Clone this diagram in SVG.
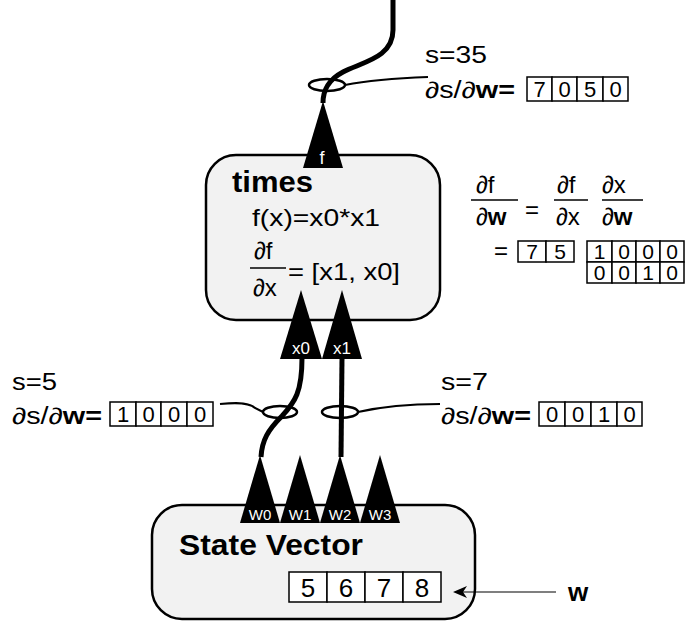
<svg xmlns="http://www.w3.org/2000/svg" width="686" height="623" viewBox="0 0 686 623">
<style>
.t{font-family:"Liberation Sans",Arial,sans-serif;fill:#000}
.b{font-weight:bold}
.wl{font-family:"Liberation Sans",Arial,sans-serif;fill:#fff;text-anchor:middle}
.cell{fill:#fff;stroke:#000;stroke-width:1.5}
.num{font-family:"Liberation Sans",Arial,sans-serif;fill:#000;text-anchor:middle}
.box{fill:#f2f2f2;stroke:#000;stroke-width:2.5}
.wire{fill:none;stroke:#000;stroke-width:5}
.ell{fill:none;stroke:#000;stroke-width:2.5}
.lead{fill:none;stroke:#000;stroke-width:2}
.fl{stroke:#000;stroke-width:1.5}
</style>
<g id="times">
<rect class="box" x="206" y="155" width="234" height="165" rx="30"/>
<text class="t b" x="232" y="192" font-size="29" textLength="81" lengthAdjust="spacingAndGlyphs">times</text>
<text class="t" x="252" y="226" font-size="24" textLength="128" lengthAdjust="spacingAndGlyphs">f(x)=x0*x1</text>
<text class="t" x="254" y="259" font-size="24">∂f</text>
<line class="fl" x1="250" y1="268" x2="286" y2="268"/>
<text class="t" x="253" y="296" font-size="24">∂x</text>
<text class="t" x="288" y="280" font-size="24" textLength="112" lengthAdjust="spacingAndGlyphs">= [x1, x0]</text>
</g>
<g id="state">
<rect class="box" x="152" y="505" width="323" height="114" rx="30"/>
<text class="t b" x="179" y="555" font-size="29" textLength="184" lengthAdjust="spacingAndGlyphs">State Vector</text>
<rect class="cell" x="289" y="572" width="38" height="30"/>
<rect class="cell" x="327" y="572" width="38" height="30"/>
<rect class="cell" x="365" y="572" width="38" height="30"/>
<rect class="cell" x="403" y="572" width="38" height="30"/>
<text class="num" x="308" y="597" font-size="26">5</text>
<text class="num" x="346" y="597" font-size="26">6</text>
<text class="num" x="384" y="597" font-size="26">7</text>
<text class="num" x="422" y="597" font-size="26">8</text>
</g>
<g id="connectors">
<path class="wire" d="M393,0 L393,30 C393,58 362,62 343,72 C328,80 323,90 323,103"/>
<path class="wire" d="M302,358 C302,392 295,402 282,416 C268,430 262,440 261,457"/>
<path class="wire" d="M342,358 L341,457"/>
<ellipse class="ell" cx="327" cy="85" rx="18" ry="6"/>
<ellipse class="ell" cx="280" cy="412" rx="17" ry="6"/>
<ellipse class="ell" cx="340" cy="412" rx="18" ry="6"/>
<path class="lead" d="M345,85 C370,80 400,78 428,77"/>
<path class="lead" d="M220,404 C240,402 250,403 255,408 L263,412"/>
<path class="lead" d="M358,412 C380,407 405,404 440,404"/>
<line x1="556" y1="592" x2="458" y2="592" stroke="#000" stroke-width="1.2"/>
<path d="M453,592 L467,586 L463,592 L467,598 Z" fill="#000"/>
</g>
<g id="ports">
<polygon points="323,101 303,168 343,168" fill="#000"/>
<text class="wl" x="322" y="164" font-size="18">f</text>
<polygon points="301,290 280,359 322,359" fill="#000"/>
<polygon points="342,290 322,359 362,359" fill="#000"/>
<text class="wl" x="301" y="354" font-size="17">x0</text>
<text class="wl" x="342" y="354" font-size="17">x1</text>
<polygon points="260,455 240,523 280,523" fill="#000"/>
<polygon points="300,455 280,523 320,523" fill="#000"/>
<polygon points="340,455 320,523 360,523" fill="#000"/>
<polygon points="380,455 360,523 400,523" fill="#000"/>
<text class="wl" x="260" y="520" font-size="15">W0</text>
<text class="wl" x="300" y="520" font-size="15">W1</text>
<text class="wl" x="340" y="520" font-size="15">W2</text>
<text class="wl" x="380" y="520" font-size="15">W3</text>
</g>
<g id="label-top">
<text class="t" x="425" y="63" font-size="23" textLength="62" lengthAdjust="spacingAndGlyphs">s=35</text>
<text class="t" x="425" y="98" font-size="23" textLength="90" lengthAdjust="spacingAndGlyphs">∂s/∂<tspan class="b">w=</tspan></text>
<rect class="cell" x="527" y="77" width="25" height="24"/>
<rect class="cell" x="552" y="77" width="25" height="24"/>
<rect class="cell" x="577" y="77" width="26" height="24"/>
<rect class="cell" x="603" y="77" width="25" height="24"/>
<text class="num" x="539.5" y="97" font-size="22">7</text>
<text class="num" x="564.5" y="97" font-size="22">0</text>
<text class="num" x="590" y="97" font-size="22">5</text>
<text class="num" x="615.5" y="97" font-size="22">0</text>
</g>
<g id="label-left">
<text class="t" x="12" y="390" font-size="23" textLength="45" lengthAdjust="spacingAndGlyphs">s=5</text>
<text class="t" x="12" y="424" font-size="23" textLength="90" lengthAdjust="spacingAndGlyphs">∂s/∂<tspan class="b">w=</tspan></text>
<rect class="cell" x="110" y="402" width="26" height="24"/>
<rect class="cell" x="136" y="402" width="25" height="24"/>
<rect class="cell" x="161" y="402" width="26" height="24"/>
<rect class="cell" x="187" y="402" width="26" height="24"/>
<text class="num" x="123" y="422" font-size="22">1</text>
<text class="num" x="148.5" y="422" font-size="22">0</text>
<text class="num" x="174" y="422" font-size="22">0</text>
<text class="num" x="200" y="422" font-size="22">0</text>
</g>
<g id="label-right">
<text class="t" x="441" y="390" font-size="23" textLength="47" lengthAdjust="spacingAndGlyphs">s=7</text>
<text class="t" x="441" y="424" font-size="23" textLength="90" lengthAdjust="spacingAndGlyphs">∂s/∂<tspan class="b">w=</tspan></text>
<rect class="cell" x="539" y="402" width="26" height="24"/>
<rect class="cell" x="565" y="402" width="26" height="24"/>
<rect class="cell" x="591" y="402" width="26" height="24"/>
<rect class="cell" x="617" y="402" width="25" height="24"/>
<text class="num" x="552" y="422" font-size="22">0</text>
<text class="num" x="578" y="422" font-size="22">0</text>
<text class="num" x="604" y="422" font-size="22">1</text>
<text class="num" x="629.5" y="422" font-size="22">0</text>
</g>
<g id="chain-rule">
<text class="t" x="476" y="193" font-size="24">∂f</text>
<line class="fl" x1="471" y1="200" x2="518" y2="200"/>
<text class="t" x="476" y="225" font-size="24">∂<tspan class="b">w</tspan></text>
<text class="t" x="525" y="218" font-size="24">=</text>
<text class="t" x="557" y="193" font-size="24">∂f</text>
<line class="fl" x1="554" y1="200" x2="588" y2="200"/>
<text class="t" x="556" y="225" font-size="24">∂x</text>
<text class="t" x="602" y="193" font-size="24">∂x</text>
<line class="fl" x1="602" y1="200" x2="643" y2="200"/>
<text class="t" x="602" y="225" font-size="24">∂<tspan class="b">w</tspan></text>
<text class="t" x="494" y="259" font-size="24">=</text>
<rect class="cell" x="518" y="241" width="28" height="21"/>
<rect class="cell" x="546" y="241" width="28" height="21"/>
<text class="num" x="532" y="259" font-size="21">7</text>
<text class="num" x="560" y="259" font-size="21">5</text>
<rect class="cell" x="587" y="241" width="25" height="21"/>
<rect class="cell" x="612" y="241" width="24" height="21"/>
<rect class="cell" x="636" y="241" width="24" height="21"/>
<rect class="cell" x="660" y="241" width="24" height="21"/>
<rect class="cell" x="587" y="262" width="25" height="21"/>
<rect class="cell" x="612" y="262" width="24" height="21"/>
<rect class="cell" x="636" y="262" width="24" height="21"/>
<rect class="cell" x="660" y="262" width="24" height="21"/>
<text class="num" x="599.5" y="259" font-size="21">1</text>
<text class="num" x="624" y="259" font-size="21">0</text>
<text class="num" x="648" y="259" font-size="21">0</text>
<text class="num" x="672" y="259" font-size="21">0</text>
<text class="num" x="599.5" y="280" font-size="21">0</text>
<text class="num" x="624" y="280" font-size="21">0</text>
<text class="num" x="648" y="280" font-size="21">1</text>
<text class="num" x="672" y="280" font-size="21">0</text>
</g>
<g id="w-label">
<text class="t b" x="568" y="601" font-size="26">w</text>
</g>
</svg>
